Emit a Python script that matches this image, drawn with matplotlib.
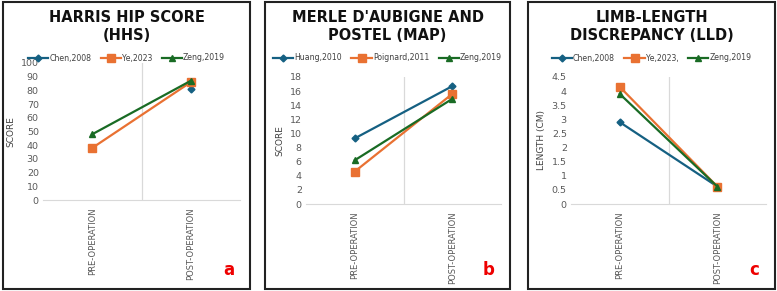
import matplotlib.pyplot as plt
from matplotlib.patches import Rectangle
from matplotlib.ticker import FuncFormatter
import numpy as np

# data
categories = ["PRE-OPERATION", "POST-OPERATION"]

hhs_labels = ["Chen,2008", "Ye,2023", "Zeng,2019"]
hhs_chen = [np.nan, 81]
hhs_ye = [38, 86]
hhs_zeng = [48, 87]

map_labels = ["Huang,2010", "Poignard,2011", "Zeng,2019"]
map_huang = [9.3, 16.7]
map_poignard = [4.6, 15.6]
map_zeng = [6.2, 14.9]

lld_labels = ["Chen,2008", "Ye,2023,", "Zeng,2019"]
lld_chen = [2.9, 0.62]
lld_ye = [4.15, 0.62]
lld_zeng = [3.9, 0.62]

colors = ["#156082", "#E97132", "#196B24"]
markers = ["D", "s", "^"]
msizes = [3.5, 5.5, 5]

W, H = 777, 291
fig = plt.figure(figsize=(W / 100, H / 100), dpi=100)


def fx(px):
    return px / W


def fy(px):
    return 1 - px / H


def panel(box, axbox, title, labels, series, yticks, ylabel, letter):
    # outer frame of the panel
    x0, y0, x1, y1 = box
    fig.patches.append(Rectangle((fx(x0), fy(y1)), fx(x1 - x0), (y1 - y0) / H,
                                 transform=fig.transFigure, fill=False,
                                 edgecolor="#222222", linewidth=1.5))
    ax0, ay0, ax1, ay1 = axbox
    ax = fig.add_axes([fx(ax0), fy(ay1), fx(ax1 - ax0), (ay1 - ay0) / H])
    xs = np.arange(len(categories))
    handles = []
    for i, vals in enumerate(series):
        h, = ax.plot(xs, vals, color=colors[i], marker=markers[i],
                     markersize=msizes[i], linewidth=1.6, label=labels[i])
        handles.append(h)
    ax.set_xlim(-0.5, 1.5)
    ax.set_ylim(yticks[0], yticks[-1])
    ax.set_yticks(yticks)
    ax.yaxis.set_major_formatter(FuncFormatter(lambda v, p: f"{v:g}"))
    ax.set_xticks(xs)
    ax.set_xticklabels(categories, rotation=90, fontsize=6.0, color="#595959")
    ax.tick_params(axis="y", labelsize=6.8, colors="#595959", length=0, pad=3)
    ax.tick_params(axis="x", length=0, pad=5)
    for s in ["top", "right", "left"]:
        ax.spines[s].set_visible(False)
    ax.spines["bottom"].set_color("#d9d9d9")
    ax.axvline(0.5, color="#d9d9d9", linewidth=0.9, zorder=0)
    ax.set_ylabel(ylabel, fontsize=6.5, color="#404040", labelpad=4)

    cx = (x0 + x1) / 2
    fig.text(fx(cx), fy(27), title, ha="center", va="center",
             fontsize=10.5, fontweight="bold", color="#111111", linespacing=1.25)
    fig.legend(handles=handles, loc="center", bbox_to_anchor=(fx(cx), fy(58)),
               ncol=3, frameon=False, fontsize=5.6, handlelength=2.6,
               handletextpad=0.15, columnspacing=1.2, numpoints=1,
               labelcolor="#404040", borderpad=0.1)
    fig.text(fx(x1 - 21), fy(270), letter, ha="center", va="center",
             fontsize=12, fontweight="bold", color="#ee0000")
    return ax


panel((3, 2, 250, 289), (43, 63, 240, 200), "HARRIS HIP SCORE\n(HHS)",
      hhs_labels, [hhs_chen, hhs_ye, hhs_zeng], np.arange(0, 101, 10), "SCORE", "a")
panel((265, 2, 510, 289), (306, 77, 501, 204), "MERLE D'AUBIGNE AND\nPOSTEL (MAP)",
      map_labels, [map_huang, map_poignard, map_zeng], np.arange(0, 19, 2), "SCORE", "b")
panel((528, 2, 775, 289), (571, 77, 766, 204), "LIMB-LENGTH\nDISCREPANCY (LLD)",
      lld_labels, [lld_chen, lld_ye, lld_zeng], np.arange(0, 4.6, 0.5), "LENGTH (CM)", "c")

fig.savefig("out.png", dpi=100, facecolor="white")
